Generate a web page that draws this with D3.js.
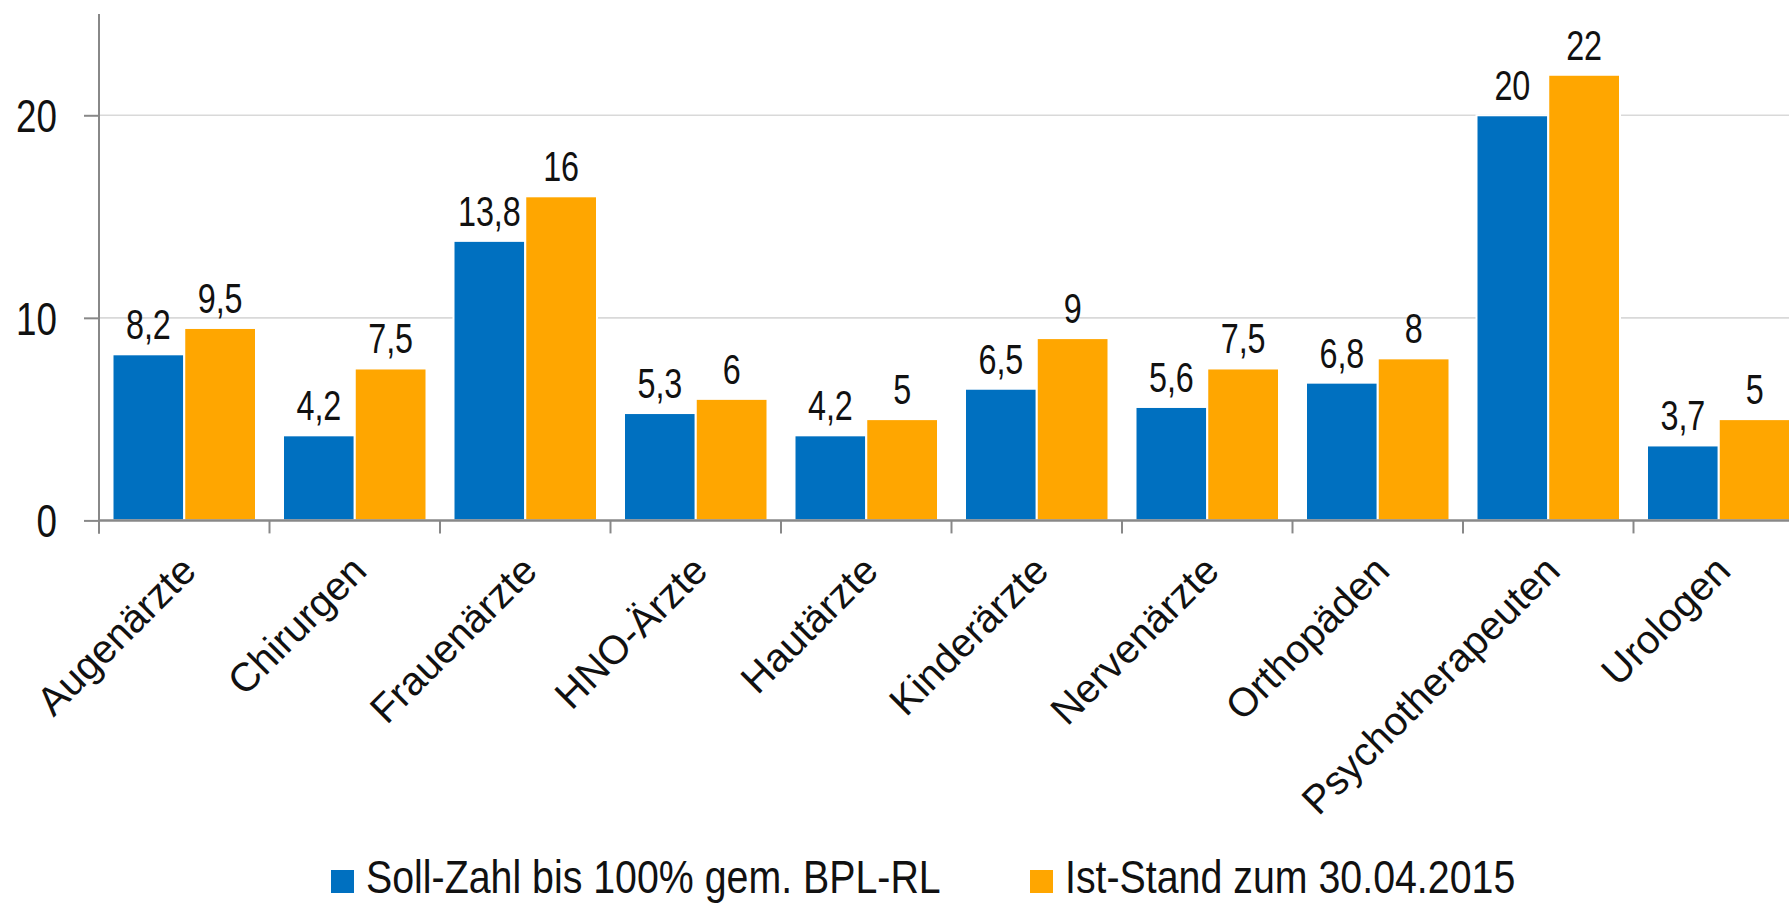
<!DOCTYPE html>
<html><head><meta charset="utf-8">
<script src="https://cdn.jsdelivr.net/npm/d3@7"></script>
<style>
html,body{margin:0;padding:0;background:#fff;overflow:hidden}
svg{display:block}
text{font-family:"Liberation Sans",Arial,sans-serif;fill:#111;}
</style></head>
<body>
<svg id="chart" width="1789" height="905"></svg>
<script>
const categories = ["Augenärzte","Chirurgen","Frauenärzte","HNO-Ärzte","Hautärzte","Kinderärzte","Nervenärzte","Orthopäden","Psychotherapeuten","Urologen"];
const seriesNames = ["Soll-Zahl bis 100% gem. BPL-RL","Ist-Stand zum 30.04.2015"];
const sollValues = [8.2,4.2,13.8,5.3,4.2,6.5,5.6,6.8,20,3.7];
const istValues = [9.5,7.5,16,6,5,9,7.5,8,22,5];
const yTicks = [0,10,20];
const colors = ["#0070C0","#FFA600"];

const W = 1789, H = 905;
const left = 99, bandW = 170.5;
const svg = d3.select("#chart");

// narrow text helper: condensed look via horizontal scaling
function narrowText(sel, sx){
  return sel.append("text").attr("transform",`scale(${sx},1)`);
}

const x0 = d3.scaleBand().domain(categories).range([left, left + bandW*categories.length]).padding(0);
const x1 = d3.scaleBand().domain([0,1]).range([13.5, bandW-13.5]).padding(0);
const y = d3.scaleLinear().domain([0,25]).range([520.4, 14]);

// gridlines
svg.append("g").selectAll("line").data(yTicks.filter(d=>d>0)).join("line")
  .attr("x1", left).attr("x2", W).attr("y1", d=>y(d)).attr("y2", d=>y(d))
  .attr("stroke","#d9d9d9").attr("stroke-width",1.6);

// bars
const data = categories.map((c,i)=>({c, v:[sollValues[i], istValues[i]]}));
const groups = svg.append("g").selectAll("g").data(data).join("g")
  .attr("transform", d=>`translate(${x0(d.c)},0)`);
groups.selectAll("rect").data(d=>d.v.map((v,k)=>({v,k}))).join("rect")
  .attr("x", d=>x1(d.k)).attr("width", x1.bandwidth())
  .attr("y", d=>y(d.v)).attr("height", d=>y(0)-y(d.v))
  .attr("fill", d=>colors[d.k]).attr("stroke","#fff").attr("stroke-width",2);
const lbl = groups.selectAll("g.lbl").data(d=>d.v.map((v,k)=>({v,k}))).join("g").attr("class","lbl")
  .attr("transform", d=>`translate(${x1(d.k)+x1.bandwidth()/2},${y(d.v)-15})`);
narrowText(lbl, 0.77).attr("text-anchor","middle").attr("font-size",42)
  .text(d=>String(d.v).replace(".",","));

// y axis
const yAxis = d3.axisLeft(y).tickValues(yTicks).tickSize(15).tickFormat(d=>d);
const gy = svg.append("g").attr("transform",`translate(${left},0)`).call(yAxis);
gy.select(".domain").remove();
gy.selectAll(".tick line").attr("stroke","#888").attr("stroke-width",2);
gy.selectAll(".tick text").remove();
const ytl = gy.selectAll(".tick").append("g").attr("transform","translate(-42,0)");
narrowText(ytl, 0.8).attr("text-anchor","end").attr("font-size",46).attr("dy","0.36em").attr("fill","#111")
  .text(d=>d);
svg.append("line").attr("x1",left).attr("x2",left).attr("y1",y(25)).attr("y2",y(0)+13)
  .attr("stroke","#888").attr("stroke-width",2);

// x axis
const gx = svg.append("g").attr("transform",`translate(0,${y(0)})`);
gx.append("line").attr("x1",left).attr("x2",left+bandW*categories.length).attr("stroke","#888").attr("stroke-width",2.5);
gx.selectAll("line.tk").data(categories).join("line").attr("class","tk")
  .attr("x1",d=>x0(d)).attr("x2",d=>x0(d)).attr("y1",0).attr("y2",13)
  .attr("stroke","#888").attr("stroke-width",2);
svg.append("g").selectAll("text").data(categories).join("text")
  .attr("font-size",40)
  .attr("text-anchor","end")
  .attr("transform", d=>`translate(${x0(d)+bandW/2+14},573) rotate(-45)`)
  .text(d=>d);

// legend
const legX = [331, 1030];
const leg = svg.append("g").selectAll("g").data(seriesNames).join("g")
  .attr("transform",(d,i)=>`translate(${legX[i]},870)`);
leg.append("rect").attr("width",23).attr("height",23).attr("fill",(d,i)=>colors[i]);
const legT = leg.append("g").attr("transform","translate(35,23)");
narrowText(legT, 0.855).attr("font-size",46).text(d=>d);
</script>
</body></html>
